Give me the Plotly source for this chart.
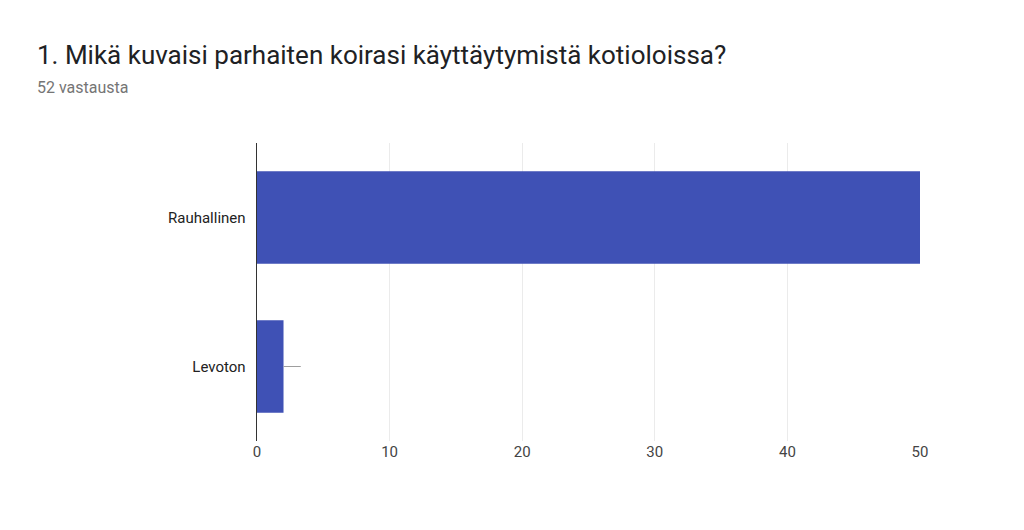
import plotly.graph_objects as go

categories = ["Rauhallinen", "Levoton"]
counts = [50, 2]
tick_vals = [0, 10, 20, 30, 40, 50]

fig = go.Figure(go.Bar(
    x=counts,
    y=categories,
    orientation="h",
    marker=dict(color="#3f51b5", line=dict(width=0)),
    error_x=dict(type="data", symmetric=False, array=[0.2, 1.3], arrayminus=[0, 0],
                 color="#9e9e9e", thickness=1, width=0),
    hoverinfo="x+y",
))

fig.update_layout(
    width=1024, height=530,
    margin=dict(l=249, r=112, t=135, b=97),
    paper_bgcolor="white", plot_bgcolor="white",
    font=dict(family="Roboto, Arial, sans-serif", color="#222"),
    bargap=0.38,
    showlegend=False,
    annotations=[
        dict(text="1. Mikä kuvaisi parhaiten koirasi käyttäytymistä kotioloissa?",
             xref="paper", yref="paper", x=-0.335, y=1.295, xanchor="left", yanchor="middle",
             showarrow=False, font=dict(size=26, color="#202124")),
        dict(text="52 vastausta",
             xref="paper", yref="paper", x=-0.335, y=1.185, xanchor="left", yanchor="middle",
             showarrow=False, font=dict(size=16, color="#757575")),
    ],
)
fig.update_xaxes(range=[0, 50], tickvals=tick_vals, showgrid=True, gridcolor="#ebebeb",
                 zeroline=False, tickfont=dict(size=15, color="#444"), ticks="", fixedrange=True)
fig.update_yaxes(autorange="reversed", showline=True, linecolor="#333", linewidth=1,
                 tickfont=dict(size=15, color="#222"), ticks="", ticksuffix="  ")

fig.write_html("out.html")
